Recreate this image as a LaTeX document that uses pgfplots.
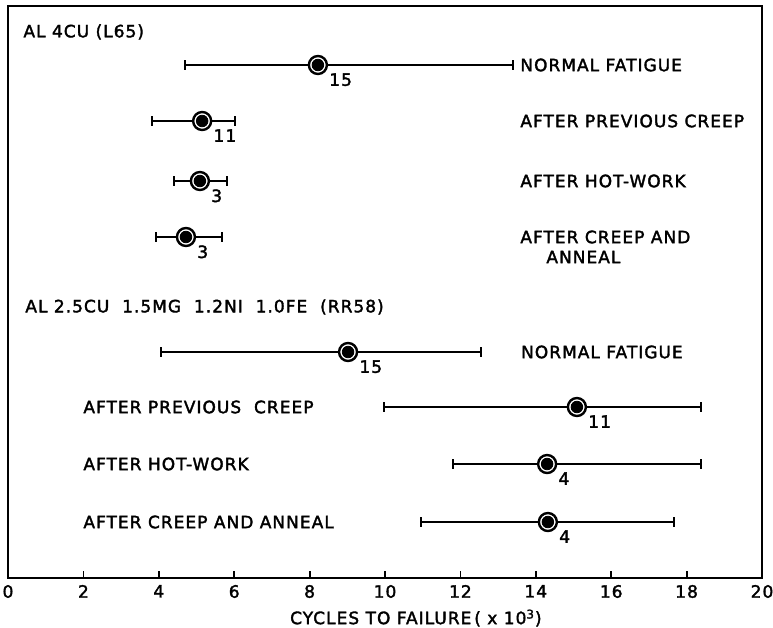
\documentclass[border=0pt]{standalone}
\usepackage{fontspec}
\setmainfont{DejaVu Sans}[LetterSpace=6, FakeBold=2]
\usepackage{pgfplots}
\pgfplotsset{compat=1.18}
\usepackage{pgfplotstable}

% x = mean cycles (x10^3), lo/hi = range, y = row position, n = number of tests
\pgfplotstableread{
x     lo     hi     y    n
8.22  4.69   13.40  513  15
5.15  3.82   6.02   457  11
5.09  4.40   5.80   397  3
4.72  3.93   5.68   341  3
9.02  4.06   12.55  226  15
15.09 9.97   18.38  171  11
14.30 11.80  18.38  114  4
14.32 10.95  17.67  56   4
}\data

\begin{document}
\begin{tikzpicture}
\begin{axis}[
  scale only axis,
  width=377pt, height=286pt,
  xmin=0, xmax=20, ymin=0, ymax=572,
  xtick={0,2,...,20},
  ytick=\empty,
  xtick pos=bottom,
  tick align=inside,
  major tick length=3.5pt,
  axis line style={line width=1pt},
  every tick/.style={black, line width=0.9pt},
  tick label style={font=\fontsize{8.5}{10}\selectfont},
  /pgf/number format/assume math mode=true,
  clip=false,
]
% range lines
\addplot[only marks, mark=none,
  error bars/.cd, x dir=both, x explicit, error mark=none,
  error bar style={draw=black, line width=1pt}]
  table[x=x, y=y, x error plus expr=\thisrow{hi}-\thisrow{x}, x error minus expr=\thisrow{x}-\thisrow{lo}]{\data};
% end caps
\addplot[only marks, mark=|, mark size=2.4pt, mark options={draw=black, line width=1pt}]
  table[x=lo, y=y]{\data};
\addplot[only marks, mark=|, mark size=2.4pt, mark options={draw=black, line width=1pt}]
  table[x=hi, y=y]{\data};
% outer ring
\addplot[only marks, mark=*, mark size=4.5pt,
  mark options={fill=white, draw=black, line width=1.2pt}]
  table[x=x, y=y]{\data};
% inner dot with counts
\addplot[only marks, mark=*, mark size=2.9pt,
  mark options={fill=black, draw=black},
  point meta=explicit symbolic,
  nodes near coords,
  every node near coord/.append style={anchor=north west, inner sep=0pt,
     xshift=5.5pt, yshift=-4pt, font=\fontsize{8.5}{10}\selectfont}]
  table[x=x, y=y, meta=n]{\data};

\begin{scope}[every node/.style={anchor=west, inner sep=0pt, font=\fontsize{8.5}{10}\selectfont}]
\node at (axis cs:0.40,546) {AL 4CU (L65)};
\node at (axis cs:13.58,513) {NORMAL FATIGUE};
\node at (axis cs:13.58,457) {AFTER PREVIOUS CREEP};
\node at (axis cs:13.58,397) {AFTER HOT-WORK};
\node at (axis cs:13.58,341) {AFTER CREEP AND};
\node at (axis cs:14.27,321) {ANNEAL};
\node at (axis cs:0.45,271) {AL 2.5CU\ \ 1.5MG\ \ 1.2NI\ \ 1.0FE\ \ (RR58)};
\node at (axis cs:13.60,226) {NORMAL FATIGUE};
\node at (axis cs:1.99,171) {AFTER PREVIOUS\ \ CREEP};
\node at (axis cs:1.99,114) {AFTER HOT-WORK};
\node at (axis cs:1.99,56) {AFTER CREEP AND ANNEAL};
\end{scope}
\node[anchor=center, inner sep=0pt, font=\fontsize{8.5}{10}\selectfont]
  at ([yshift=-20pt]axis cs:10.82,0) {CYCLES TO FAILURE\,( x 10\textsuperscript{3})};
\end{axis}
\pgfresetboundingbox
\path[use as bounding box] ([xshift=-4pt,yshift=-24.5pt]current axis.south west) rectangle ([xshift=5.5pt,yshift=3pt]current axis.north east);
\end{tikzpicture}
\end{document}
